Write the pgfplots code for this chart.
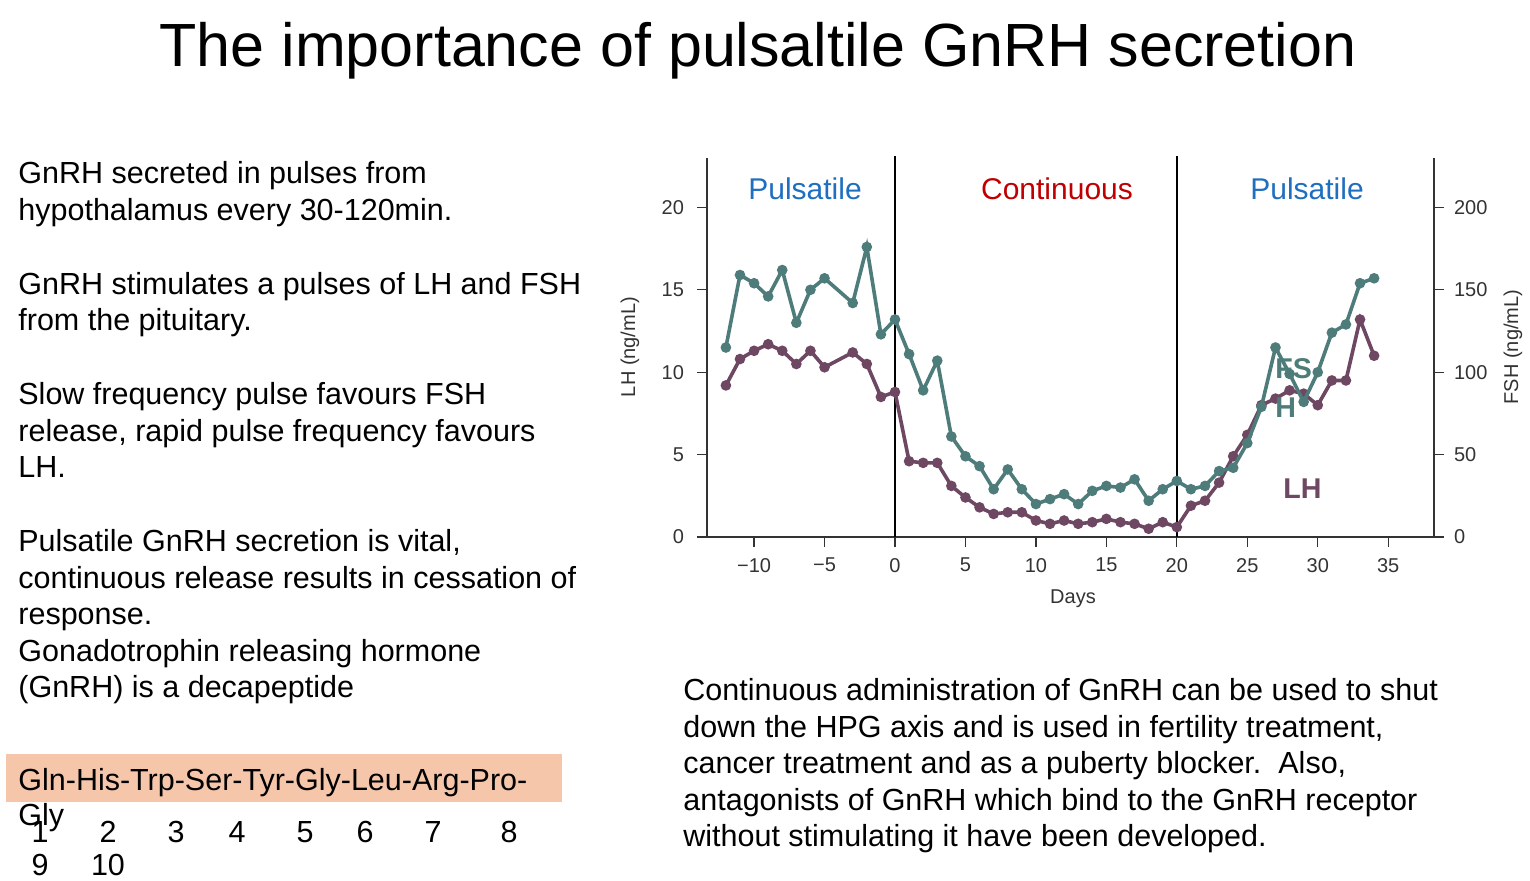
\documentclass[border=0pt]{standalone}
\usepackage{pgfplots}
\pgfplotsset{compat=1.18}
\usepackage{pgfplotstable}
\usepackage{fontspec}
\setmainfont{Liberation Sans}
\definecolor{fshc}{HTML}{4E7C7A}
\definecolor{lhc}{HTML}{6E4862}
\definecolor{pblue}{HTML}{1F6FC0}
\definecolor{cred}{HTML}{C00000}
\definecolor{salmon}{HTML}{F6C6AB}
\definecolor{axgray}{HTML}{333333}
\newcommand{\bodyfont}{\fontsize{15.25}{18.3}\selectfont}
\pgfplotstableread{
day lh
-12 9.2
-11 10.8
-10 11.3
-9 11.7
-8 11.3
-7 10.5
-6 11.3
-5 10.3
-3 11.2
-2 10.5
-1 8.5
0 8.8
1 4.6
2 4.5
3 4.5
4 3.1
5 2.4
6 1.8
7 1.4
8 1.5
9 1.5
10 1.0
11 0.8
12 1.0
13 0.8
14 0.9
15 1.1
16 0.9
17 0.8
18 0.5
19 0.9
20 0.6
21 1.9
22 2.2
23 3.3
24 4.9
25 6.2
26 8.0
27 8.4
28 8.9
29 8.7
30 8.0
31 9.5
32 9.5
33 13.2
34 11.0
}\lhdata
\pgfplotstableread{
day fsh
-12 115
-11 159
-10 154
-9 146
-8 162
-7 130
-6 150
-5 157
-3 142
-2 176
-1 123
0 132
1 111
2 89
3 107
4 61
5 49
6 43
7 29
8 41
9 29
10 20
11 23
12 26
13 20
14 28
15 31
16 30
17 35
18 22
19 29
20 34
21 29
22 31
23 40
24 42
25 57
26 79
27 115
28 99
29 82
30 100
31 124
32 129
33 154
34 157
}\fshdata
\begin{document}
\begin{tikzpicture}
\path[use as bounding box, fill=white] (0,0) rectangle (765pt,440pt);
% title
\node[anchor=base, inner sep=0, font=\fontsize{30.5}{36}\selectfont] at (379pt,406.5pt) {The importance of pulsaltile GnRH secretion};
% left text
\begin{scope}[every node/.style={anchor=base west, inner sep=0, font=\bodyfont}]
\node at (9pt,348pt) {GnRH secreted in pulses from};
\node at (9pt,330pt) {hypothalamus every 30-120min.};
\node at (9pt,293pt) {GnRH stimulates a pulses of LH and FSH};
\node at (9pt,275pt) {from the pituitary.};
\node at (9pt,238pt) {Slow frequency pulse favours FSH};
\node at (9pt,219.5pt) {release, rapid pulse frequency favours};
\node at (9pt,201.5pt) {LH.};
\node at (9pt,164.5pt) {Pulsatile GnRH secretion is vital,};
\node at (9pt,146pt) {continuous release results in cessation of};
\node at (9pt,128pt) {response.};
\node at (9pt,109.5pt) {Gonadotrophin releasing hormone};
\node at (9pt,91.5pt) {(GnRH) is a decapeptide};
% bottom right
\node at (341.5pt,90pt) {Continuous administration of GnRH can be used to shut};
\node at (341.5pt,71.5pt) {down the HPG axis and is used in fertility treatment,};
\node at (341.5pt,53.5pt) {cancer treatment and as a puberty blocker.\ \ Also,};
\node at (341.5pt,35pt) {antagonists of GnRH which bind to the GnRH receptor};
\node at (341.5pt,17pt) {without stimulating it have been developed.};
\end{scope}
% peptide box
\fill[salmon] (3pt,39pt) rectangle (281pt,63pt);
\node[anchor=base west, inner sep=0, font=\bodyfont] at (9pt,45pt) {Gln-His-Trp-Ser-Tyr-Gly-Leu-Arg-Pro-};
\node[anchor=base west, inner sep=0, font=\bodyfont] at (9pt,27.5pt) {Gly};
\begin{scope}[every node/.style={anchor=base, inner sep=0, font=\bodyfont}]
\node at (20pt,19pt) {1};
\node at (54pt,19pt) {2};
\node at (88pt,19pt) {3};
\node at (118.5pt,19pt) {4};
\node at (152.5pt,19pt) {5};
\node at (182.5pt,19pt) {6};
\node at (216.5pt,19pt) {7};
\node at (254.5pt,19pt) {8};
\node at (20pt,2.5pt) {9};
\node at (54pt,2.5pt) {10};
\end{scope}
% chart
\begin{axis}[
  at={(353.5pt,171.5pt)}, anchor=south west,
  scale only axis, width=363.5pt, height=189.5pt,
  xmin=-13.34, xmax=38.25, ymin=0, ymax=23,
  axis x line*=bottom, axis y line*=left,
  axis line style={axgray, line width=1.2pt, -},
  tick align=outside, major tick length=5pt,
  tick style={axgray, line width=0.6pt},
  xtick={-10,-5,0,5,10,15,20,25,30,35},
  xticklabels={−10,−5,0,5,10,15,20,25,30,35},
  ytick={0,5,10,15,20},
  yticklabels={0,5,10,15,20},
  ticklabel style={font=\fontsize{10}{12}\selectfont, text=axgray},
  xticklabel style={yshift=-2pt},
  yticklabel style={xshift=-3pt},
  clip=false,
]
\draw[black, line width=1.2pt] (axis cs:0,0) -- (axis cs:0,23.1);
\draw[black, line width=1.2pt] (axis cs:20,0) -- (axis cs:20,23.1);
\addplot[lhc, line width=1.8pt, mark=*, mark size=1.7pt, mark options={solid, fill=lhc}] table[x=day, y=lh] {\lhdata};
\end{axis}
\begin{axis}[
  at={(353.5pt,171.5pt)}, anchor=south west,
  scale only axis, width=363.5pt, height=189.5pt,
  xmin=-13.34, xmax=38.25, ymin=0, ymax=230,
  axis x line=none, axis y line*=right,
  axis line style={axgray, line width=1.2pt, -},
  tick align=outside, major tick length=5pt,
  tick style={axgray, line width=0.6pt},
  ytick={0,50,100,150,200},
  yticklabels={0,50,100,150,200},
  ticklabel style={font=\fontsize{10}{12}\selectfont, text=axgray},
  yticklabel style={xshift=1.5pt},
  clip=false,
]
\addplot[fshc, line width=1.8pt, mark=*, mark size=1.7pt, mark options={solid, fill=fshc}] table[x=day, y=fsh] {\fshdata};
\end{axis}
% chart labels
\node[anchor=base, inner sep=0, font=\fontsize{15}{18}\selectfont, text=pblue] at (402.5pt,340pt) {Pulsatile};
\node[anchor=base, inner sep=0, font=\fontsize{15}{18}\selectfont, text=cred] at (528.5pt,340pt) {Continuous};
\node[anchor=base, inner sep=0, font=\fontsize{15}{18}\selectfont, text=pblue] at (653.5pt,340pt) {Pulsatile};
\node[anchor=base west, inner sep=0, font=\fontsize{14.3}{17}\selectfont\bfseries, text=fshc] at (637.5pt,251pt) {FS};
\node[anchor=base west, inner sep=0, font=\fontsize{14.3}{17}\selectfont\bfseries, text=fshc] at (637.5pt,231.5pt) {H};
\node[anchor=base west, inner sep=0, font=\fontsize{14.3}{17}\selectfont\bfseries, text=lhc] at (641.5pt,190.8pt) {LH};
\node[rotate=90, inner sep=0, font=\fontsize{10}{12}\selectfont, text=axgray] at (315pt,266.5pt) {LH (ng/mL)};
\node[rotate=90, inner sep=0, font=\fontsize{10}{12}\selectfont, text=axgray] at (756.5pt,266.5pt) {FSH (ng/mL)};
\node[inner sep=0, font=\fontsize{10}{12}\selectfont, text=axgray] at (536.5pt,140.5pt) {Days};
\end{tikzpicture}
\end{document}
